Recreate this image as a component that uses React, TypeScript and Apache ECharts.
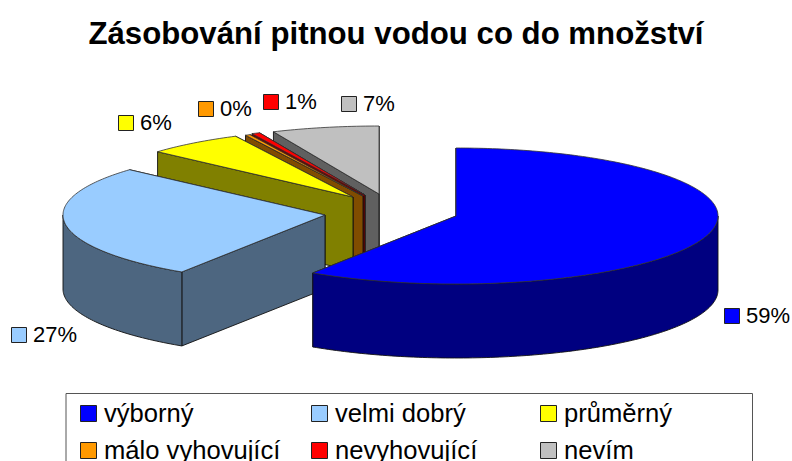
import React, { useEffect, useRef } from "react";
import * as echarts from "echarts";

const titleText = "Zásobování pitnou vodou co do množství";
const categories = ["výborný", "velmi dobrý", "průměrný", "málo vyhovující", "nevyhovující", "nevím"];
const sliceValues = [59.2, 27.4, 6.0, 0.3, 0.5, 6.6];
const topColors = ["#0000FF", "#99CCFF", "#FFFF00", "#FF9900", "#FF0000", "#C0C0C0"];
const sideColors = ["#000080", "#4D6680", "#808000", "#804C00", "#800000", "#606060"];

// layout only: exploded position of each slice's apex on the page
const apexes = [[456, 216], [325, 215], [353, 197], [363, 196], [365, 195], [379, 194]];
const RX = 262;
const RY = 68;
const DEPTH = 74;
const labelSpots = [[724, 308], [11, 327], [118, 115], [198, 101], [263, 94], [341, 96]];
const legendSpots = [[80, 405], [311, 405], [540, 405], [80, 442], [311, 442], [540, 442]];

const FONT = "'Liberation Sans', Arial, sans-serif";
const total = sliceValues.reduce((a, b) => a + b, 0);

function arc(cx: number, cy: number, from: number, to: number, dy = 0) {
  const pts: number[][] = [];
  const n = Math.max(1, Math.ceil(Math.abs(to - from)));
  for (let k = 0; k <= n; k++) {
    const t = ((from + ((to - from) * k) / n) * Math.PI) / 180;
    pts.push([cx + RX * Math.sin(t), cy - RY * Math.cos(t) + dy]);
  }
  return pts;
}

function renderSlice(params: any, api: any) {
  const i = api.value(0) as number;
  const before = sliceValues.slice(0, i).reduce((a, b) => a + b, 0);
  const a0 = (before / total) * 360;
  const a1 = a0 + (api.value(1) / total) * 360;
  const [cx, cy] = apexes[i];
  const side = { fill: sideColors[i], stroke: "#111", lineWidth: 0.9 };
  const wall = (a: number) => {
    const p = arc(cx, cy, a, a)[0];
    return {
      type: "polygon",
      shape: { points: [[cx, cy], p, [p[0], p[1] + DEPTH], [cx, cy + DEPTH]] },
      style: side,
    };
  };
  const children: any[] = [wall(a1), wall(a0)];
  const f0 = Math.max(a0, 90);
  const f1 = Math.min(a1, 270);
  if (f1 > f0) {
    children.push({
      type: "polygon",
      shape: { points: [...arc(cx, cy, f0, f1), ...arc(cx, cy, f1, f0, DEPTH)] },
      style: side,
    });
  }
  children.push({
    type: "polygon",
    shape: { points: [[cx, cy], ...arc(cx, cy, a0, a1)] },
    style: { fill: topColors[i], stroke: "#333", lineWidth: 0.8 },
  });
  return { type: "group", children };
}

export default function App() {
  const ref = useRef<HTMLDivElement>(null);
  useEffect(() => {
    const chart = echarts.init(ref.current!, null, { renderer: "svg" });
    const keyStyle = (i: number) => ({ fill: topColors[i], stroke: "#222", lineWidth: 1 });
    const graphic: any[] = [
      {
        type: "polyline",
        shape: { points: [[66, 461], [66, 393.5], [752.5, 393.5], [752.5, 461]] },
        style: { fill: "none", stroke: "#555", lineWidth: 1 },
      },
    ];
    sliceValues.forEach((v, i) => {
      const [x, y] = labelSpots[i];
      graphic.push({ type: "rect", shape: { x: x + 0.5, y: y + 0.5, width: 15, height: 15 }, style: keyStyle(i) });
      graphic.push({
        type: "text", x: x + 22, y: y + 7,
        style: { text: `${Math.round((v / total) * 100)}%`, font: `22px ${FONT}`, fill: "#000", textVerticalAlign: "middle" },
      });
    });
    categories.forEach((c, i) => {
      const [x, y] = legendSpots[i];
      graphic.push({ type: "rect", shape: { x: x + 0.5, y: y + 0.5, width: 16, height: 16 }, style: keyStyle(i) });
      graphic.push({
        type: "text", x: x + 24, y: y + 8,
        style: { text: c, font: `25.6px ${FONT}`, fill: "#000", textVerticalAlign: "middle" },
      });
    });
    chart.setOption({
      animation: false,
      backgroundColor: "#fff",
      title: {
        text: titleText, left: "center", top: 13,
        textStyle: { fontFamily: FONT, fontWeight: "bold", fontSize: 31.2, color: "#000" },
      },
      tooltip: { show: false },
      series: [
        {
          type: "custom",
          coordinateSystem: "none",
          silent: true,
          renderItem: renderSlice,
          encode: { value: 1 },
          data: sliceValues.map((v, i) => [i, v]).reverse(),
        },
      ],
      graphic,
    });
    return () => chart.dispose();
  }, []);
  return <div ref={ref} style={{ position: "absolute", left: 0, top: 0, width: 792, height: 461 }} />;
}
